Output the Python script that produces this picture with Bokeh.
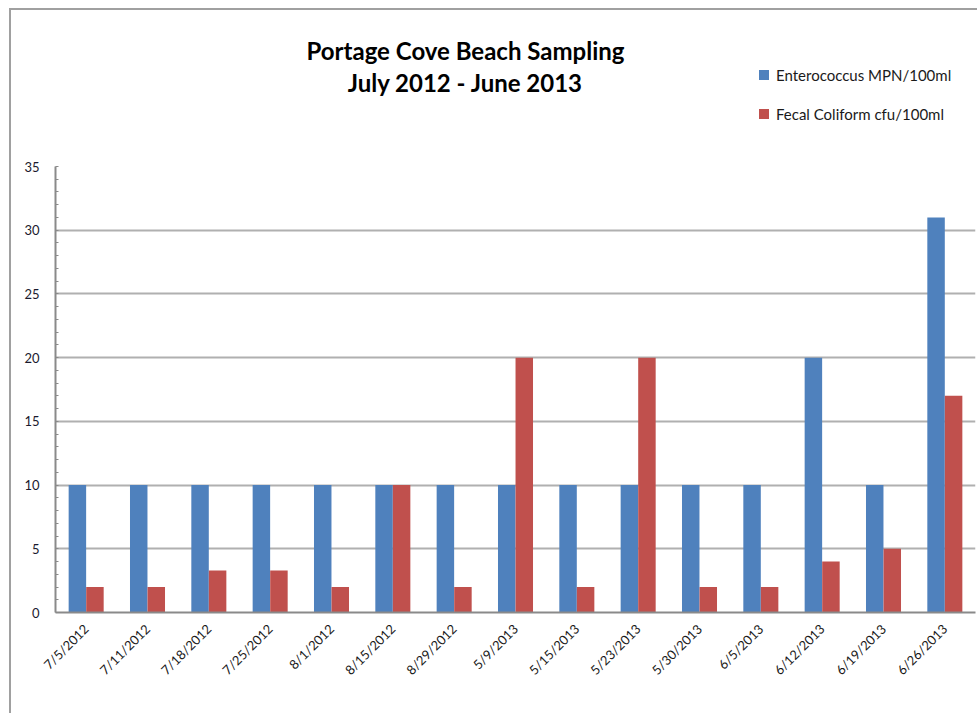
from math import pi
from bokeh.plotting import figure
from bokeh.layouts import column
from bokeh.models import (FactorRange, Range1d, Label, Legend, LegendItem,
                          ColumnDataSource, SingleIntervalTicker)
from bokeh.transform import dodge
from bokeh.embed import file_html
from bokeh.resources import INLINE

dates = ["7/5/2012", "7/11/2012", "7/18/2012", "7/25/2012", "8/1/2012", "8/15/2012",
         "8/29/2012", "5/9/2013", "5/15/2013", "5/23/2013", "5/30/2013", "6/5/2013",
         "6/12/2013", "6/19/2013", "6/26/2013"]
enterococcus = [10, 10, 10, 10, 10, 10, 10, 10, 10, 10, 10, 10, 20, 10, 31]
fecal = [2, 2, 3.3, 3.3, 2, 10, 2, 20, 2, 20, 2, 2, 4, 5, 17]
series_names = ["Enterococcus MPN/100ml", "Fecal Coliform cfu/100ml"]
colors = ["#4F81BD", "#C0504D"]
title_lines = ["Portage Cove Beach Sampling", "July 2012 - June 2013"]

src = ColumnDataSource(dict(date=dates, ent=enterococcus, fec=fecal))

W = 966

# ---------- header (title + legend) ----------
hdr = figure(x_range=FactorRange(*dates), y_range=Range1d(-100, -50), width=W, height=150,
             output_backend="svg", toolbar_location=None,
             x_axis_location=None, y_axis_location=None,
             min_border=0, min_border_left=0, min_border_right=0,
             min_border_top=0, min_border_bottom=0)
hdr.outline_line_color = None
hdr.grid.grid_line_color = None
# size-0, off-range markers: they only provide the square legend swatches
h1 = hdr.scatter(x="date", y="ent", size=0, marker="square", source=src,
                 fill_color=colors[0], line_color=None)
h2 = hdr.scatter(x="date", y="fec", size=0, marker="square", source=src,
                 fill_color=colors[1], line_color=None)
for i, t in enumerate(title_lines):
    hdr.add_layout(Label(x=410, y=110 - 32 * i, x_units="screen", y_units="screen",
                         text=t, text_align="center", text_baseline="middle",
                         text_font="Lato", text_font_style="bold",
                         text_font_size="24px", text_color="#000000"))
legend = Legend(items=[LegendItem(label=series_names[0], renderers=[h1]),
                       LegendItem(label=series_names[1], renderers=[h2])],
                location=(696, 34), padding=0, margin=0, spacing=14,
                glyph_width=25, glyph_height=25, label_height=10, label_standoff=0,
                label_text_font="Lato", label_text_font_size="15px",
                label_text_color="#1a1a1a", border_line_color=None,
                background_fill_alpha=0)
hdr.add_layout(legend, "center")

# ---------- main chart ----------
p = figure(x_range=FactorRange(*dates), y_range=(0, 35), width=W, height=553,
           output_backend="svg", toolbar_location=None,
           min_border_left=44, min_border_right=2, min_border_top=6, min_border_bottom=101)

p.vbar(x=dodge("date", -0.143, range=p.x_range), top="ent", width=0.285, source=src,
       fill_color=colors[0], line_color=None)
p.vbar(x=dodge("date", 0.143, range=p.x_range), top="fec", width=0.285, source=src,
       fill_color=colors[1], line_color=None)

p.outline_line_color = None
p.xgrid.grid_line_color = None
p.ygrid.grid_line_color = "#b0b0b0"
p.ygrid.grid_line_width = 2
p.yaxis.ticker = SingleIntervalTicker(interval=5, num_minor_ticks=5)
p.yaxis.axis_line_color = "#8a8a8a"
p.yaxis.axis_line_width = 2
p.yaxis.major_tick_line_color = None
p.yaxis.minor_tick_in = 3
p.yaxis.minor_tick_out = 0
p.yaxis.minor_tick_line_color = "#8a8a8a"
p.yaxis.major_label_text_font = "Lato"
p.yaxis.major_label_text_font_size = "13px"
p.yaxis.major_label_text_color = "#1a1a2e"
p.yaxis.major_label_standoff = 10

p.xaxis.axis_line_color = "#8a8a8a"
p.xaxis.axis_line_width = 2
p.xaxis.major_tick_line_color = None
p.xaxis.minor_tick_line_color = None
p.xaxis.major_label_orientation = pi / 4
p.xaxis.major_label_text_font = "Lato"
p.xaxis.major_label_text_font_size = "13px"
p.xaxis.major_label_text_color = "#1a1a1a"
p.xaxis.major_label_standoff = 8

layout = column(hdr, p, spacing=0)
layout.styles = {"margin-left": "9px", "margin-top": "8px",
                 "border-left": "2px solid #a0a0a0", "border-top": "2px solid #a0a0a0"}

open("out.html", "w").write(file_html(layout, INLINE))
